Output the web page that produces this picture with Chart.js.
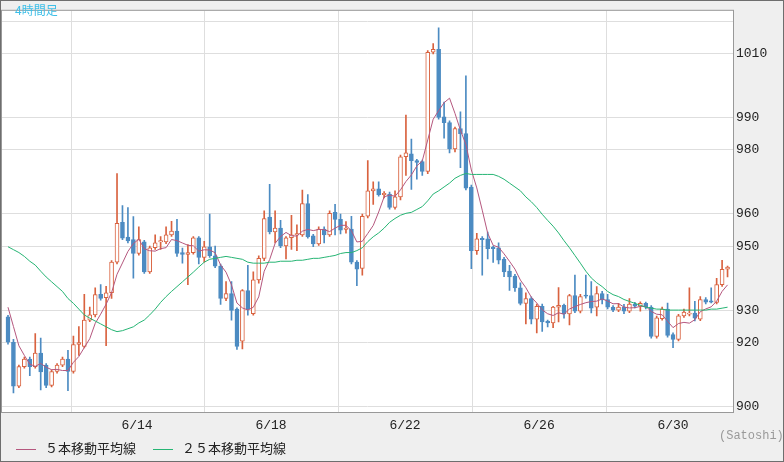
<!DOCTYPE html>
<html><head><meta charset="utf-8">
<script src="https://cdn.jsdelivr.net/npm/chart.js@4"></script>
<style>
html,body{margin:0;padding:0;background:#efefef;}
#wrap{position:relative;width:784px;height:462px;}
canvas{position:absolute;left:0;top:0;}
.t{position:absolute;font-family:"Noto Sans CJK JP";white-space:nowrap;}
</style></head><body>
<div id="wrap">
<canvas id="c" width="784" height="462"></canvas>
<div class="t" style="left:15px;top:1px;font-size:12px;color:#3cbfe8;">4時間足</div>
<div class="t" style="left:16px;top:438px;font-size:13px;color:#222;"><span style="display:inline-block;width:20px;height:1px;background:#b5577e;vertical-align:middle;margin-right:9px;"></span>５本移動平均線</div>
<div class="t" style="left:153px;top:438px;font-size:13px;color:#222;"><span style="display:inline-block;width:20px;height:1px;background:#26b574;vertical-align:middle;margin-right:9px;"></span>２５本移動平均線</div>
<div class="t" style="left:719px;top:429px;font-size:12px;color:#999;font-family:'Liberation Mono';">(Satoshi)</div>
</div>
<script>
const opens=[928,920.1,906.4,912.5,914.9,912.5,916.7,913,906.7,911,913,914.9,911,919.4,918.8,927,928.6,935,934,935.5,945,957.4,952.8,952,947.7,951.3,942,949.5,951.3,951.3,953.5,954.7,948,947.4,948,952.6,946.5,949.8,947,943.8,933.7,935.2,930.4,920.4,936.2,929,939.5,946.2,959,954.4,955.6,950.1,952.6,953.5,953.5,963.2,953.2,950.7,955.3,953.5,960.5,958.3,955.2,955.3,945,943.1,959.3,967.2,967.8,966,966.2,962,965.3,977.8,978.7,976.6,976.3,973.2,1010.3,1011.2,990.2,988.4,980.2,986.6,985,968.4,948.6,952.4,952.3,949.6,949.5,946,942.2,940.7,937,932.2,933.7,927.3,931.3,926.7,926.1,931,931.6,928.9,934.6,929.8,934.8,934.6,931,935.2,933.4,931,930.1,931,929.8,932,931.3,932.2,931,921.9,927.4,930.4,922.5,921,928.3,928.8,929.2,927.3,933.4,933,932.5,938,942.8];
const highs=[928.5,921,913,915.5,915.5,922.8,921.4,913.5,911.5,913.5,915.5,917.6,922,925,935,931,937,938,937.5,945.5,972.6,962.6,962,959.2,956,951.8,950,953.5,953,956,957.7,958.3,949.4,950.5,953,953,951.5,960,950,944.4,939,939,930.8,936.5,944,942,947,961,969.2,961,958,953,959.6,956.6,967.4,966,953.7,956,956,961,963,960,957.6,959.3,945.5,960,976.6,970,970,967,966.8,967.2,978.3,990.8,983.3,977,976.8,1010.8,1013,1017.9,994.8,989,987,991.8,1003,969,954,953,954.4,950,951,946.5,944,941.2,938.6,935.5,934.2,932,932,927,931.3,937.1,932,935,941,935,941,939,937.4,935.9,935,931.5,932.2,931.9,933.7,932.5,932.7,932.6,931.5,928.2,931,932.3,923,928.8,930.4,937,932.8,934.3,934,937,940,945.6,943.8];
const lows=[919.5,904.3,906,912,909.7,912,905.3,906,906.2,910.5,912.5,905,910.5,916,918.3,926.5,928,933.2,919,933.7,944.5,952,951,940,947.2,941.5,941.5,949,949,950.8,953,946.8,944.7,938,947.5,944.5,945,946.5,943.3,931.9,933,927,917.9,918,928.5,928.5,938.5,945.5,953.8,951,949.5,946,949,948.6,953,952.5,949.8,950.2,951,953,953.5,953.8,954,944.5,937.7,941,958.8,963,965.5,965,961.5,961.5,964.4,972,967.6,970.8,972,972.5,1009.8,989.5,983.6,979,979.3,974.4,967.5,943,947.4,941,946,944.9,944.5,940.5,936.2,935.9,931.7,925.8,925.8,923,923.5,924.9,924.6,926.4,927.6,925.5,929.3,929.2,933.8,929.2,928.3,932,930.5,929.6,929.6,929,929.3,930.8,929.8,930.5,921.4,921.4,927,921.7,918.4,920.5,927.8,928.3,926.7,926.8,932,932.3,932,937.5,940.4];
const closes=[920.1,906.4,912.5,914.9,912.5,916.7,910.9,906.7,911,913,914.9,911,919.4,920,927,928.6,934.9,933.7,935.5,945,957.1,952.5,951.6,947.7,952,942,949.5,951,951.6,953.5,954.7,947.7,947.4,948,952.6,946.5,949.8,947,943.8,933.7,935.2,930,918.8,936.2,930.4,939.5,946.2,958.6,954.4,955.6,950.1,952.6,953.5,953.8,963.2,952.9,950.7,955.3,953.5,960.2,958.3,955,955.4,945,942.8,959.3,967.2,967.8,966,966.4,962,965.3,977.8,979,976.6,976,973.2,1010.3,1011.2,990,988.4,980.2,986.6,985,968,948.6,952.3,952,949.2,949.2,945.6,942,940.4,937,932.2,933.7,927.3,931.3,926.4,926.1,931,931.6,928.9,934.6,929.8,934.3,934.4,930.7,935.2,933.3,931,930.1,931,929.8,932,931.3,932.2,931,921.9,927.7,930.4,922.2,921,928.3,929.5,929.2,927.6,933.4,932.6,932.8,938,942.8,943.5];
const ma25=[949.8,948.9,948.0,946.8,945.3,944.1,942.2,940.4,938.9,937.4,935.9,933.7,932.2,930.4,928.6,927.6,926.7,925.8,924.9,924.0,923.4,923.7,924.3,924.9,926.1,927.0,928.6,930.4,932.5,934.3,935.9,937.4,938.9,940.4,941.9,943.5,945.0,945.9,946.2,946.5,946.8,946.5,946.2,945.9,945.0,944.7,944.7,944.7,945.0,945.0,945.3,945.3,945.3,945.6,945.6,945.9,946.2,946.2,946.5,946.8,947.1,947.7,948.0,948.0,948.6,949.5,951.4,952.9,954.1,955.6,957.4,958.6,959.6,960.2,960.5,961.4,962.3,964.1,966.2,967.2,968.4,969.6,971.1,972.0,972.6,972.3,972.3,972.3,972.3,972.3,971.7,970.8,969.6,968.4,967.2,965.3,963.8,962.0,959.9,958.0,956.2,954.1,951.7,949.5,947.1,944.7,942.2,940.1,938.6,937.4,935.9,934.9,934.3,933.4,932.8,932.2,931.6,931.0,930.7,930.4,930.4,930.1,930.1,930.1,930.1,930.1,930.1,930.1,930.1,930.4,930.4,930.7,931.0];
const ma5Head=[931,925,919,916];
const dateLabels=['','6/14','6/18','6/22','6/26','6/30'];
const dateIdx=[-0.2,23.67,48.26,72.84,97.43,122.0];
const yTicks=[900,920,930,950,960,980,990,1010,1020];

const RED='#d9623f', BLUE='#4c8bc2';
const n=closes.length;
const idx=[...Array(n).keys()];
const up=idx.map(i=>closes[i]>=opens[i]);
const ma5=idx.map(i=>i<4?ma5Head[i]:(closes.slice(i-4,i+1).reduce((a,b)=>a+b,0)/5));

const frame={id:'frame',
 beforeDraw(ch){const c=ch.ctx,a=ch.chartArea;c.save();c.fillStyle='#efefef';c.fillRect(0,0,784,462);c.fillStyle='#fff';c.fillRect(a.left,a.top,a.right-a.left,a.bottom-a.top);c.restore();},
 afterDraw(ch){const c=ch.ctx,a=ch.chartArea;c.save();c.strokeStyle='#999';c.lineWidth=1;c.strokeRect(a.left-0.5,a.top-0.5,a.right-a.left+1,a.bottom-a.top+1);c.strokeStyle='#6e6e6e';c.lineWidth=2;c.strokeRect(0,0,784,462);c.restore();}
};

new Chart(document.getElementById('c'),{
 type:'bar',
 data:{datasets:[
  {type:'line',data:idx.map(i=>({x:i,y:ma25[i]})),borderColor:'#26b574',borderWidth:1,pointRadius:0,order:0},
  {type:'line',data:idx.map(i=>({x:i,y:ma5[i]})),borderColor:'#b5577e',borderWidth:1,pointRadius:0,order:0},
  {data:idx.map(i=>({x:i,y:[lows[i],highs[i]]})),backgroundColor:idx.map(i=>up[i]?RED:BLUE),barThickness:1,grouped:false,order:3},
  {data:idx.map(i=>{let a=opens[i],b=closes[i];if(Math.abs(a-b)<0.4){b=a+(up[i]?0.4:-0.4);}return {x:i,y:[a,b]};}),
   backgroundColor:idx.map(i=>up[i]?'#fff':BLUE),borderColor:idx.map(i=>up[i]?RED:BLUE),borderWidth:1,borderSkipped:false,barThickness:4,grouped:false,order:2}
 ]},
 options:{animation:false,responsive:false,events:[],
  layout:{padding:{left:2,top:0,right:0,bottom:0}},
  plugins:{legend:{display:false},tooltip:{enabled:false}},
  scales:{
   x:{type:'linear',min:-1.1,max:133,offset:false,
    afterBuildTicks:s=>{s.ticks=dateIdx.map(v=>({value:v}));},
    afterFit:s=>{s.height=50;},
    ticks:{autoSkip:false,maxRotation:0,padding:6,color:'#222',font:{family:'Liberation Mono',size:13},
     callback:(v)=>{const k=dateIdx.indexOf(v);return k>=0?dateLabels[k]:'';}},
    grid:{color:'#dedede',drawTicks:false},border:{display:false}},
   y:{position:'right',min:898.4,max:1023.2,
    afterBuildTicks:s=>{s.ticks=yTicks.map(v=>({value:v}));},
    afterFit:s=>{s.width=51;},
    ticks:{padding:3,color:'#222',font:{family:'Liberation Mono',size:13},callback:v=>v===1020?'':String(v)},
    grid:{color:'#dedede',drawTicks:false},border:{display:false}}
  }},
 plugins:[frame]
});
</script></body></html>
